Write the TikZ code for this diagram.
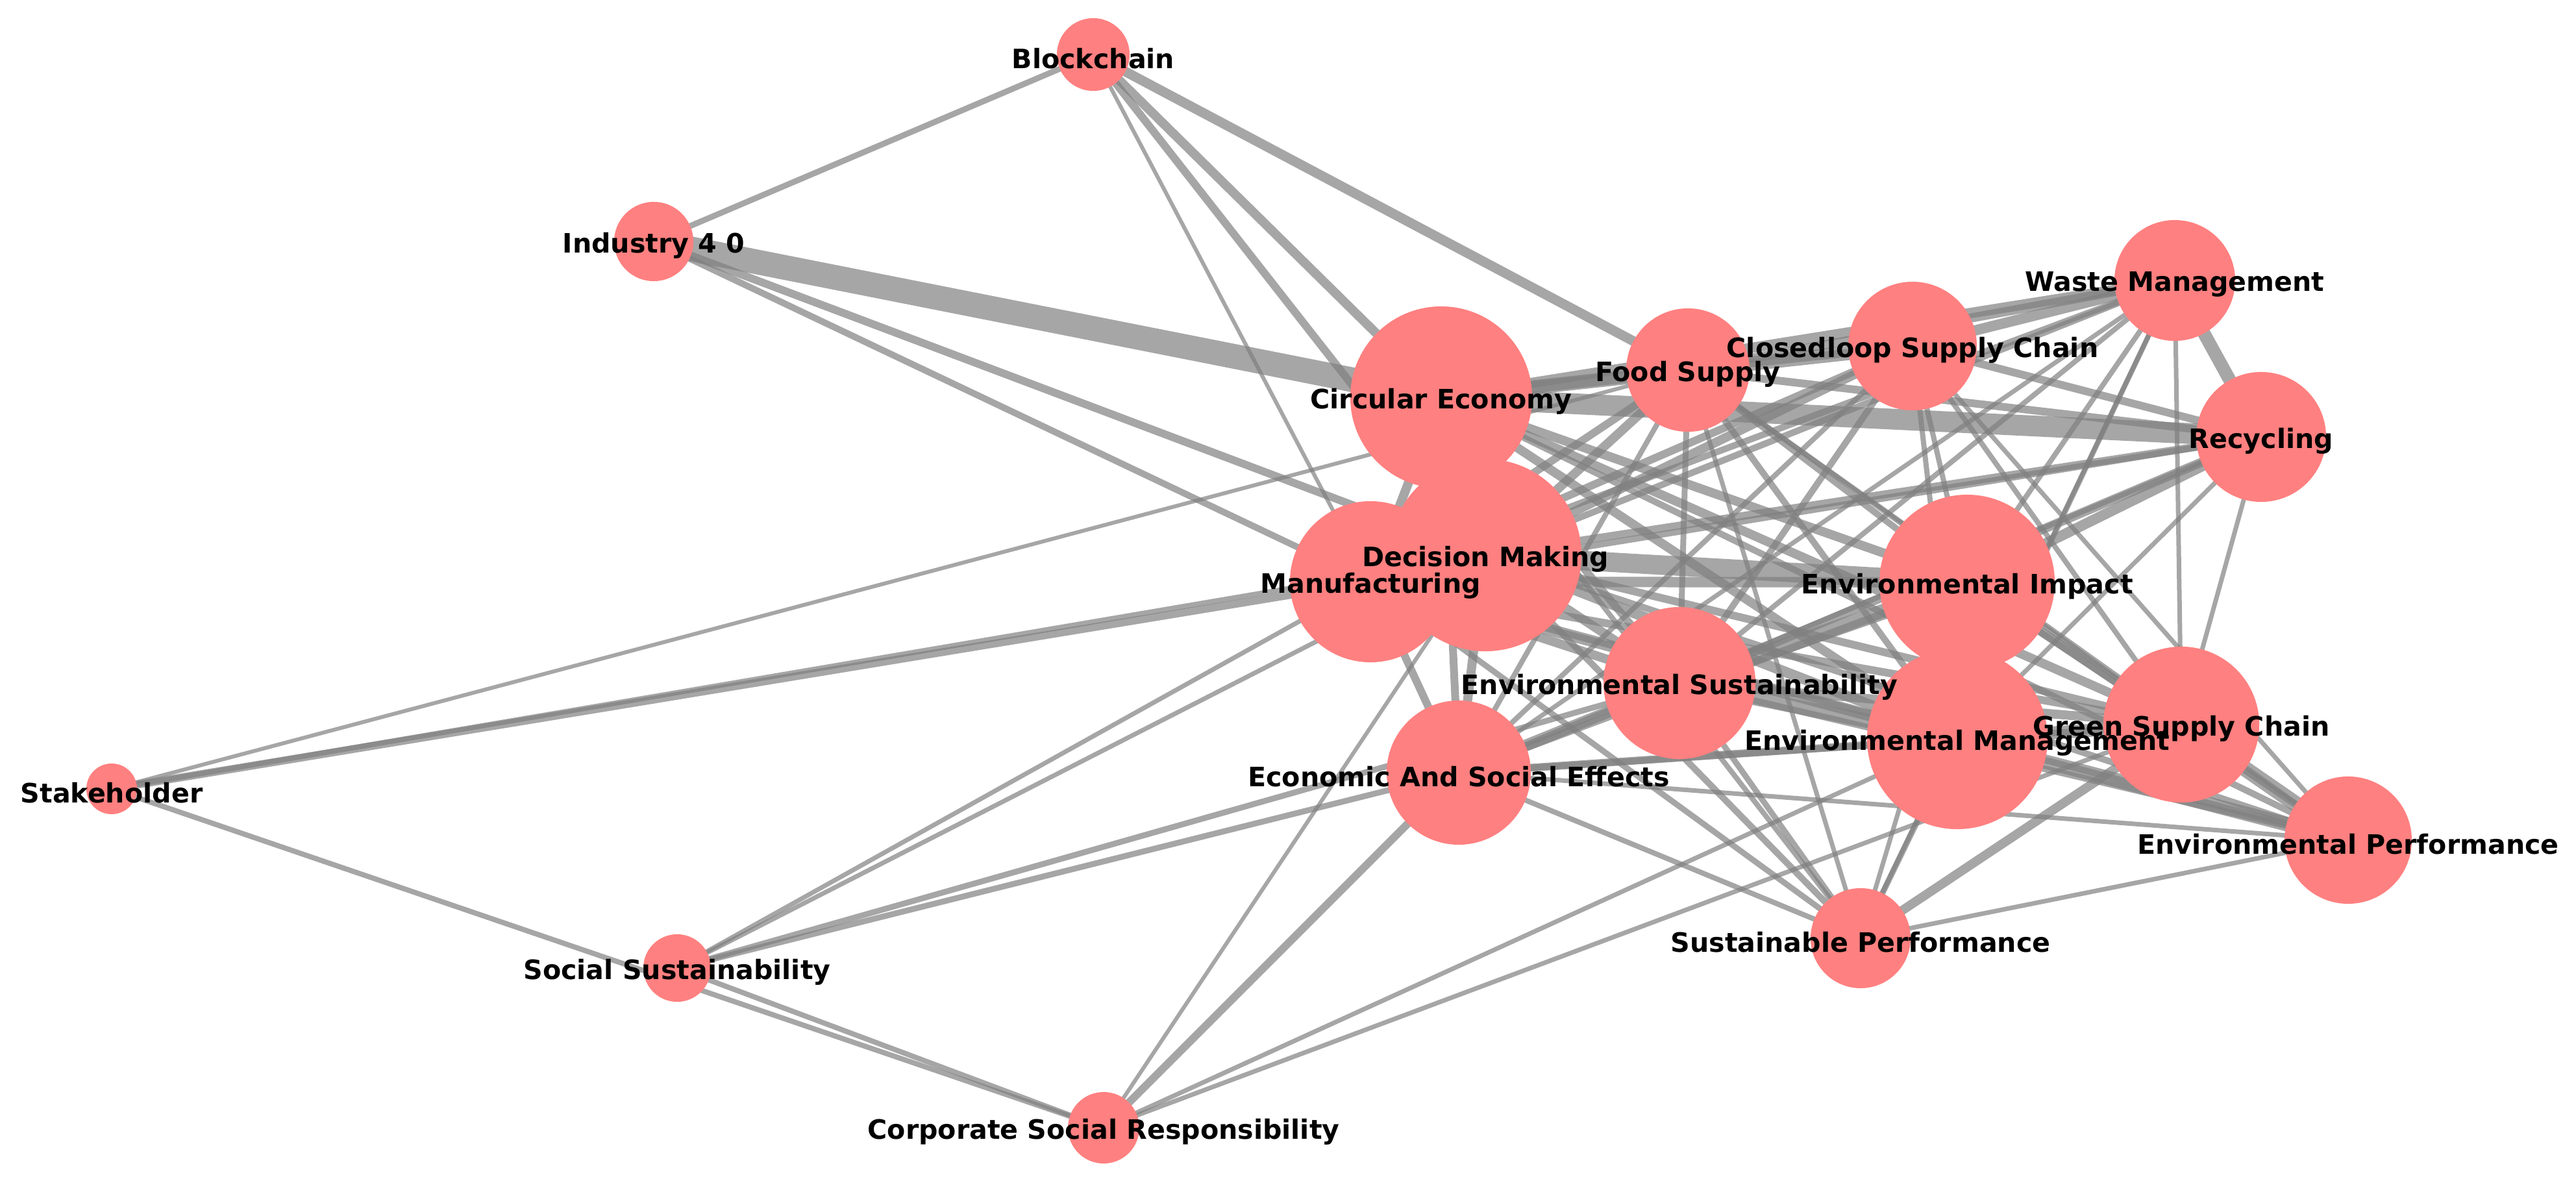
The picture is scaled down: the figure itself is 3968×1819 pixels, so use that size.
\documentclass[tikz,border=0pt]{standalone}
\usepackage{fontspec}
\setsansfont{DejaVu Sans}
\definecolor{nodefill}{RGB}{255,128,128}
\definecolor{edgegray}{RGB}{128,128,128}
\pgfdeclarelayer{bg}
\pgfsetlayers{bg,main}
\tikzset{
  kw/.style={circle, fill=nodefill, draw=none, inner sep=0pt},
  lbl/.style={font=\sffamily\bfseries\fontsize{11.7}{13}\selectfont, text=black, inner sep=0pt, yshift=-0.06cm},
  edge/.style={draw=edgegray, draw opacity=0.7, line cap=butt},
}
\begin{document}
\begin{tikzpicture}[x=0.01cm,y=-0.01cm]
\useasboundingbox (0,0) rectangle (3968,1819);
% nodes
\node[kw, minimum size=1.12cm] (BC) at (1684,84) {};
\node[kw, minimum size=1.22cm] (I4) at (1007,372) {};
\node[kw, minimum size=2.80cm] (CE) at (2220,612) {};
\node[kw, minimum size=1.90cm] (FS) at (2600,570) {};
\node[kw, minimum size=1.98cm] (CL) at (2946,533) {};
\node[kw, minimum size=1.86cm] (WM) at (3350,432) {};
\node[kw, minimum size=2.00cm] (RC) at (3483,673) {};
\node[kw, minimum size=2.96cm] (DM) at (2288,855) {};
\node[kw, minimum size=2.48cm] (MF) at (2111,896) {};
\node[kw, minimum size=2.70cm] (EI) at (3030,897) {};
\node[kw, minimum size=2.34cm] (ES) at (2587,1052) {};
\node[kw, minimum size=2.78cm] (EM) at (3015,1138) {};
\node[kw, minimum size=2.40cm] (GS) at (3360,1116) {};
\node[kw, minimum size=2.22cm] (EA) at (2247,1190) {};
\node[kw, minimum size=1.96cm] (EP) at (3617,1294) {};
\node[kw, minimum size=1.54cm] (SP) at (2866,1445) {};
\node[kw, minimum size=0.78cm] (SH) at (172,1215) {};
\node[kw, minimum size=1.04cm] (SS) at (1043,1491) {};
\node[kw, minimum size=1.10cm] (CSR) at (1700,1737) {};
% edges
\begin{pgfonlayer}{bg}
\foreach \a/\b/\w in {
 BC/I4/9, BC/FS/15, BC/CE/14, BC/DM/12, BC/MF/6,
 I4/CE/38, I4/MF/10, I4/DM/12,
 SH/FS/6, SH/MF/12, SH/DM/8, SH/CSR/8,
 SS/CSR/8, SS/MF/7, SS/DM/7, SS/ES/9, SS/EA/9,
 CSR/DM/6, CSR/EA/12, CSR/EM/7, CSR/GS/7,
 CE/FS/18, CE/CL/22, CE/WM/16, CE/RC/32, CE/DM/14, CE/MF/14, CE/EA/12,
 CE/EI/14, CE/ES/12, CE/EM/14, CE/GS/14, CE/EP/10, CE/SP/8,
 FS/CL/12, FS/WM/14, FS/RC/12, FS/DM/14, FS/MF/12, FS/EI/10, FS/ES/9,
 FS/EM/10, FS/GS/8, FS/EA/8, FS/EP/7, FS/SP/7,
 CL/WM/16, CL/RC/12, CL/DM/14, CL/MF/12, CL/EI/8, CL/ES/10, CL/EM/8,
 CL/GS/8, CL/EA/8, CL/EP/7,
 WM/RC/20, WM/DM/10, WM/MF/10, WM/EI/8, WM/ES/8, WM/EM/8, WM/GS/7,
 WM/EA/7, WM/SP/7,
 RC/DM/12, RC/MF/10, RC/EI/16, RC/ES/14, RC/EM/7, RC/GS/7, RC/EA/8,
 DM/EI/30, MF/EI/16, EI/ES/24, EI/EM/20, EI/GS/14, EI/EA/12, EI/EP/10, EI/SP/7,
 DM/MF/10, DM/ES/14, DM/EM/16, DM/GS/12, DM/EA/14, DM/EP/10, DM/SP/10,
 MF/ES/14, MF/EM/18, MF/GS/12, MF/EA/12, MF/EP/10, MF/SP/9,
 ES/EM/22, ES/GS/14, ES/EA/18, ES/EP/10, ES/SP/9,
 EM/GS/20, EM/EA/12, EM/EP/22, EM/SP/9,
 GS/EA/10, GS/EP/24, GS/SP/14,
 EA/EP/7, EA/SP/8, EP/SP/7}
 {\draw[edge, line width=\w*0.1mm] (\a.center) -- (\b.center);}
\end{pgfonlayer}
% labels
\node[lbl] at (BC) {Blockchain};
\node[lbl] at (I4) {Industry 4 0};
\node[lbl] at (CE) {Circular Economy};
\node[lbl] at (FS) {Food Supply};
\node[lbl] at (CL) {Closedloop Supply Chain};
\node[lbl] at (WM) {Waste Management};
\node[lbl] at (RC) {Recycling};
\node[lbl] at (DM) {Decision Making};
\node[lbl] at (MF) {Manufacturing};
\node[lbl] at (EI) {Environmental Impact};
\node[lbl] at (ES) {Environmental Sustainability};
\node[lbl] at (EM) {Environmental Management};
\node[lbl] at (GS) {Green Supply Chain};
\node[lbl] at (EA) {Economic And Social Effects};
\node[lbl] at (EP) {Environmental Performance};
\node[lbl] at (SP) {Sustainable Performance};
\node[lbl] at (SH) {Stakeholder};
\node[lbl] at (SS) {Social Sustainability};
\node[lbl] at (CSR) {Corporate Social Responsibility};
\end{tikzpicture}
\end{document}
